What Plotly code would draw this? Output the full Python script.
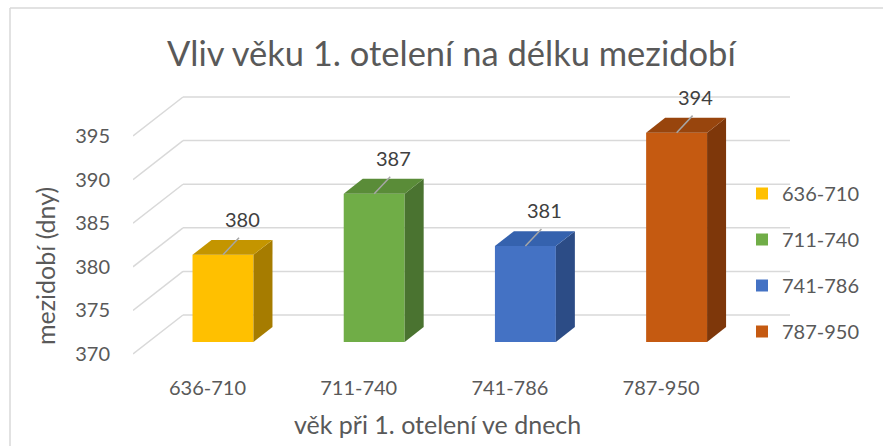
import plotly.graph_objects as go

# ---- data ----
categories = ["636-710", "711-740", "741-786", "787-950"]
values = [380, 387, 381, 394]
tick_values = [370, 375, 380, 385, 390, 395]
title_text = "Vliv věku 1. otelení na délku mezidobí"
y_title = "mezidobí (dny)"
x_title = "věk při 1. otelení ve dnech"

# ---- styles ----
colors_front = ["#FFC000", "#70AD47", "#4472C4", "#C55A11"]
colors_top = ["#C49500", "#5A8C38", "#3562AE", "#98450D"]
colors_side = ["#A67C00", "#4A7330", "#2C4C86", "#7E370A"]
FONT = "Lato"
TXT = "#595959"
GRID = "#D9D9D9"

W, H = 883, 446
ML, MR, MT, MB = 133, 93, 90, 86
PW, PH = W - ML - MR, H - MT - MB
XR = [-0.4927, 3.8525]
YR = [369.312, 400.275]

DX, DY = 0.3307, 4.47      # full floor depth (x units, value units)
D0, D1 = 0.31, 0.69        # bar depth span (fraction of floor depth)
BW = 0.403                 # bar width
BASE = tick_values[0]
LDX, LDY = 0.106, 1.95     # leader line
LBY = 4.1                  # label offset


def px_x(px):
    return (px - ML) / PW


def px_y(py):
    return (H - MB - py) / PH


fig = go.Figure()
shapes = []
# back wall + side wall gridlines
for v in tick_values:
    shapes.append(dict(type="line", xref="x", yref="y", layer="below",
                       x0=XR[0], y0=v, x1=XR[0] + DX, y1=v + DY,
                       line=dict(color=GRID, width=1.5)))
    shapes.append(dict(type="line", xref="x", yref="y", layer="below",
                       x0=XR[0] + DX, y0=v + DY, x1=XR[1], y1=v + DY,
                       line=dict(color=GRID, width=1.5)))
# chart border (left + top)
shapes.append(dict(type="line", xref="paper", yref="paper",
                   x0=px_x(10), y0=px_y(8), x1=px_x(10), y1=px_y(460),
                   line=dict(color="#D9D9D9", width=1.5)))
shapes.append(dict(type="line", xref="paper", yref="paper",
                   x0=px_x(10), y0=px_y(8), x1=px_x(900), y1=px_y(8),
                   line=dict(color="#D9D9D9", width=1.5)))

ddx = (D1 - D0) * DX
ddy = (D1 - D0) * DY
annotations = []
for i, (cat, v) in enumerate(zip(categories, values)):
    c = i + D0 * DX
    b = BASE + D0 * DY
    t = v + D0 * DY
    xl, xr = c - BW / 2, c + BW / 2
    fig.add_trace(go.Bar(x=[c], y=[v - BASE], base=[b], width=BW, name=cat,
                         legendgroup=cat,
                         marker=dict(color=colors_front[i], line=dict(width=0)),
                         hoverinfo="skip"))
    # side face
    fig.add_trace(go.Scatter(x=[xr, xr, xr + ddx, xr + ddx, xr],
                             y=[b, t, t + ddy, b + ddy, b],
                             fill="toself", fillcolor=colors_side[i], mode="lines",
                             line=dict(width=0, color=colors_side[i]),
                             showlegend=False, hoverinfo="skip"))
    # top face
    fig.add_trace(go.Scatter(x=[xl, xr, xr + ddx, xl + ddx, xl],
                             y=[t, t, t + ddy, t + ddy, t],
                             fill="toself", fillcolor=colors_top[i], mode="lines",
                             line=dict(width=0, color=colors_top[i]),
                             showlegend=False, hoverinfo="skip"))
    # leader line
    fig.add_trace(go.Scatter(x=[c, c + LDX], y=[t, t + LDY], mode="lines",
                             line=dict(color="#A6A6A6", width=1.5),
                             showlegend=False, hoverinfo="skip"))
    annotations.append(dict(x=c + LDX + 0.02, y=t + LBY, xref="x", yref="y",
                            text=str(v), showarrow=False,
                            font=dict(family=FONT, size=20, color="#404040"),
                            xanchor="center", yanchor="middle"))

annotations.append(dict(x=px_x(452), y=px_y(53), xref="paper", yref="paper",
                        text=title_text, showarrow=False,
                        font=dict(family=FONT, size=34.5, color=TXT),
                        xanchor="center", yanchor="middle"))
annotations.append(dict(x=px_x(45), y=px_y(266), xref="paper", yref="paper",
                        text=y_title, showarrow=False, textangle=-90,
                        font=dict(family=FONT, size=25, color=TXT),
                        xanchor="center", yanchor="middle"))
annotations.append(dict(x=px_x(437), y=px_y(424), xref="paper", yref="paper",
                        text=x_title, showarrow=False,
                        font=dict(family=FONT, size=25, color=TXT),
                        xanchor="center", yanchor="middle"))

fig.update_layout(
    width=W, height=H,
    margin=dict(l=ML, r=MR, t=MT, b=MB, autoexpand=False),
    paper_bgcolor="white", plot_bgcolor="white",
    barmode="overlay",
    font=dict(family=FONT, size=20, color=TXT),
    shapes=shapes, annotations=annotations,
    xaxis=dict(range=XR, tickvals=list(range(len(categories))), ticktext=categories,
               showgrid=False, zeroline=False, showline=False, ticks="",
               ticklabelstandoff=14, tickfont=dict(size=20, color=TXT)),
    yaxis=dict(range=YR, tickvals=tick_values, showgrid=False, zeroline=False,
               showline=False, ticks="", ticklabelstandoff=22,
               tickfont=dict(size=20, color=TXT)),
    legend=dict(x=px_x(742), y=px_y(174), xanchor="left", yanchor="top",
                bgcolor="rgba(0,0,0,0)", tracegroupgap=17, itemwidth=30,
                font=dict(family=FONT, size=20, color=TXT)),
    hovermode=False,
)

fig.write_html("out.html",
               config={"displayModeBar": False, "staticPlot": True},
               post_script="document.body.style.margin='0';document.body.style.overflow='hidden';")
